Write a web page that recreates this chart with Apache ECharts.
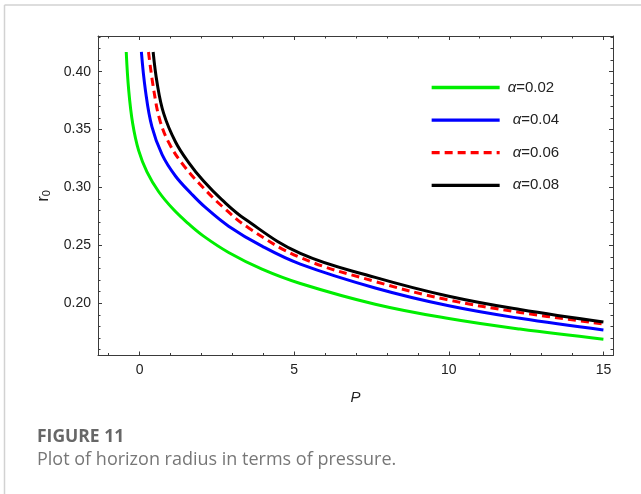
<!DOCTYPE html>
<html><head><meta charset="utf-8">
<script src="https://cdn.jsdelivr.net/npm/echarts@6/dist/echarts.min.js"></script>
<style>html,body{margin:0;padding:0;background:#fff}#c{width:641px;height:494px}</style>
</head><body><div id="c"></div>
<script>
// ---- data ----
const seriesNames = ['α=0.02', 'α=0.04', 'α=0.06', 'α=0.08'];
const pGreen = [-0.43, -0.35, -0.22, -0.03, 0.24, 0.62, 1.10, 1.59, 2.07, 2.88, 3.96, 5.20, 7.62, 10.0, 12.3, 15.0];
const rGreen = [0.417, 0.384, 0.355, 0.332, 0.3135, 0.2963, 0.2809, 0.2685, 0.258, 0.2439, 0.2295, 0.2171, 0.1992, 0.1868, 0.1777, 0.169];
const pBlue = [0.06, 0.19, 0.40, 0.73, 1.16, 1.69, 2.12, 2.88, 3.96, 5.20, 7.62, 10.0, 12.3, 15.0];
const rBlue = [0.417, 0.384, 0.3525, 0.3283, 0.3099, 0.2942, 0.2830, 0.2666, 0.2493, 0.2338, 0.2132, 0.1978, 0.187, 0.1769];
const pRed = [0.29, 0.46, 0.67, 1.00, 1.48, 2.07, 2.66, 3.52, 5.20, 7.62, 9.93, 12.3, 15.0];
const rRed = [0.417, 0.3842, 0.3570, 0.3360, 0.3172, 0.2995, 0.2840, 0.2652, 0.2395, 0.2188, 0.2032, 0.1921, 0.1821];
const pBlack = [0.44, 0.57, 0.78, 1.16, 1.59, 2.07, 2.66, 3.42, 5.20, 7.62, 10.0, 12.3, 15.0];
const rBlack = [0.417, 0.390, 0.364, 0.3395, 0.3215, 0.3055, 0.2895, 0.2725, 0.2430, 0.2224, 0.2061, 0.1946, 0.1838];
const xMajorTicks = [0, 5, 10, 15];
const xMinorTicks = [-1, 0, 1, 2, 3, 4, 5, 6, 7, 8, 9, 10, 11, 12, 13, 14, 15];
const yMajorTicks = [0.20, 0.25, 0.30, 0.35, 0.40];
const yMinorTicks = [0.16, 0.17, 0.18, 0.19, 0.20, 0.21, 0.22, 0.23, 0.24, 0.25, 0.26, 0.27, 0.28, 0.29, 0.30, 0.31, 0.32, 0.33, 0.34, 0.35, 0.36, 0.37, 0.38, 0.39, 0.40, 0.41, 0.42, 0.43];
const xRange = [-1.343, 15.31];
const yRange = [0.1549, 0.4308];
const captionTitle = 'FIGURE 11';
const captionText = 'Plot of horizon radius in terms of pressure.';

// ---- chart ----
const zip = (a, b) => a.map((v, i) => [v, b[i]]);
const FRAME = '#3a3a3a';
const FONT = 'Liberation Sans, Arial, sans-serif';
const CAPFONT = 'Open Sans, Lato, sans-serif';

function xAx(pos, ticks, len, showLine, labels) {
  return {
    type: 'value', min: xRange[0], max: xRange[1], position: pos, gridIndex: 0,
    axisLine: { show: showLine, onZero: false, lineStyle: { color: FRAME, width: 1 } },
    axisTick: { show: true, inside: true, length: len, customValues: ticks, lineStyle: { color: FRAME, width: 1 } },
    axisLabel: labels ? { show: true, customValues: xMajorTicks, formatter: v => String(v), fontSize: 14, color: '#222', fontFamily: FONT, margin: 8 } : { show: false },
    splitLine: { show: false },
    name: labels ? 'P' : '', nameLocation: 'middle', nameGap: 35,
    nameTextStyle: { fontStyle: 'italic', fontSize: 15, color: '#222', fontFamily: FONT }
  };
}
function yAx(pos, ticks, len, showLine, labels) {
  return {
    type: 'value', min: yRange[0], max: yRange[1], position: pos, gridIndex: 0,
    axisLine: { show: showLine, onZero: false, lineStyle: { color: FRAME, width: 1 } },
    axisTick: { show: true, inside: true, length: len, customValues: ticks, lineStyle: { color: FRAME, width: 1 } },
    axisLabel: labels ? { show: true, customValues: yMajorTicks, formatter: v => v.toFixed(2), fontSize: 14, color: '#222', fontFamily: FONT, margin: 7 } : { show: false },
    splitLine: { show: false },
    name: labels ? '{r|r}{s|0}' : '', nameLocation: 'middle', nameGap: 45, nameRotate: 90,
    nameTextStyle: { color: '#222', fontFamily: FONT,
      rich: { r: { fontSize: 16, fontFamily: FONT, color: '#222' }, s: { fontSize: 11, fontFamily: FONT, color: '#222', padding: [7, 0, 0, 0] } } }
  };
}

const colors = ['#00ee00', '#0000ff', '#ff0000', '#000000'];
const dataSets = [zip(pGreen, rGreen), zip(pBlue, rBlue), zip(pRed, rRed), zip(pBlack, rBlack)];

const chart = echarts.init(document.getElementById('c'), null, { renderer: 'canvas' });
chart.setOption({
  animation: false,
  backgroundColor: '#fff',
  grid: { left: 98, top: 36, width: 515, height: 319.5, containLabel: false },
  xAxis: [xAx('bottom', xMajorTicks, 4, true, true), xAx('bottom', xMinorTicks, 2.5, false, false),
          xAx('top', xMajorTicks, 4, true, false), xAx('top', xMinorTicks, 2.5, false, false)],
  yAxis: [yAx('left', yMajorTicks, 4, true, true), yAx('left', yMinorTicks, 2.5, false, false),
          yAx('right', yMajorTicks, 4, true, false), yAx('right', yMinorTicks, 2.5, false, false)],
  legend: {
    orient: 'vertical', left: 430, top: 80, padding: 0, itemWidth: 68, itemHeight: 14, itemGap: 17.6,
    data: seriesNames.map((n, i) => ({ name: n, textStyle: { padding: [0, 0, 0, i === 0 ? 3 : 8] } })),
    formatter: n => '{a|α}{b|' + n.slice(1) + '}',
    itemStyle: { opacity: 0 },
    lineStyle: { width: 3.3 },
    textStyle: { fontSize: 15, color: '#222', fontFamily: FONT,
      rich: { a: { fontStyle: 'italic', fontSize: 15, fontFamily: FONT, color: '#222' }, b: { fontSize: 15, fontFamily: FONT, color: '#222' } } },
    selectedMode: false
  },
  title: [
    { text: captionTitle, left: 37, top: 428, padding: 0, textStyle: { fontSize: 17.5, fontWeight: 'bold', color: '#676767', fontFamily: CAPFONT } },
    { text: captionText, left: 37, top: 451, padding: 0, textStyle: { fontSize: 18, fontWeight: 'normal', color: '#777777', fontFamily: CAPFONT } }
  ],
  graphic: [
    { type: 'line', shape: { x1: 4.5, y1: 5, x2: 641, y2: 5 }, style: { stroke: '#d2d2d2', lineWidth: 1.5 }, silent: true },
    { type: 'line', shape: { x1: 4.5, y1: 5, x2: 4.5, y2: 494 }, style: { stroke: '#d2d2d2', lineWidth: 1.5 }, silent: true }
  ],
  series: seriesNames.map((n, i) => ({
    name: n, type: 'line', xAxisIndex: 0, yAxisIndex: 0, data: dataSets[i],
    symbol: 'none', showSymbol: false, smooth: 0.4, clip: true,
    lineStyle: { color: colors[i], width: 3, type: i === 2 ? [8, 5] : 'solid' },
    itemStyle: { color: colors[i] }
  }))
});
</script></body></html>
